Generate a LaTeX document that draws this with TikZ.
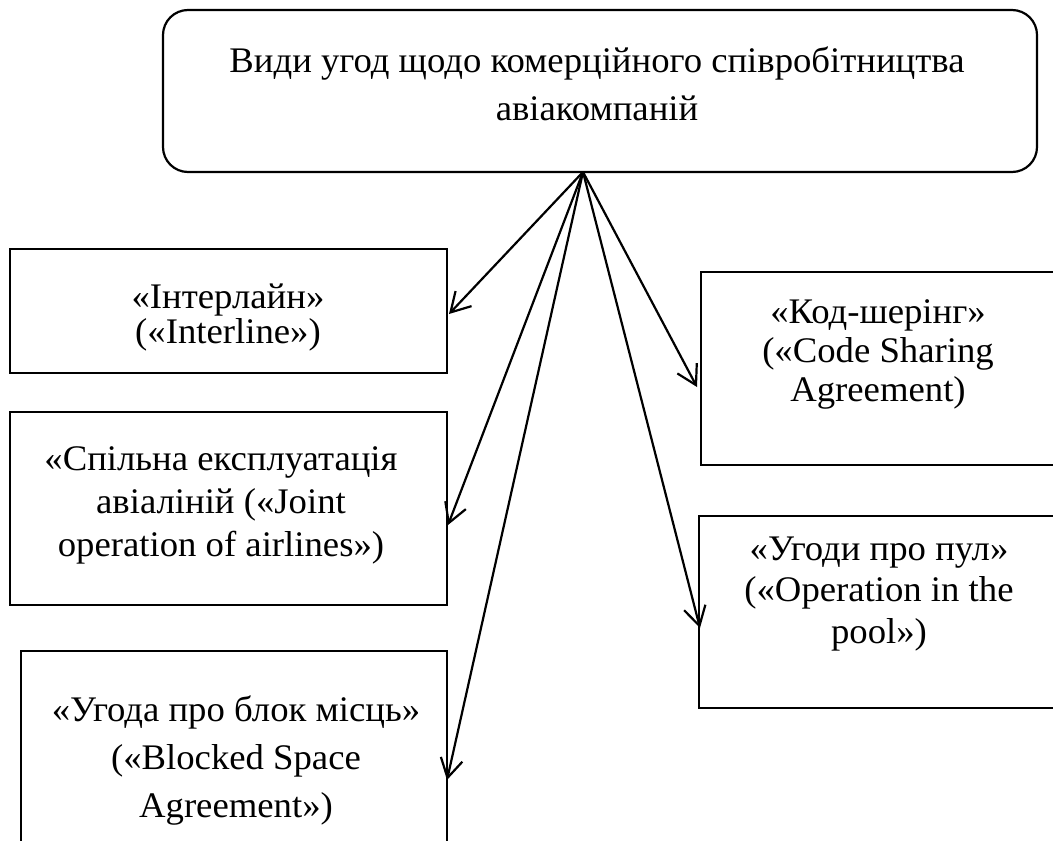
\documentclass[tikz,border=0pt]{standalone}
\usepackage{fontspec}
\setmainfont{Liberation Serif}[FakeStretch=1.02]
\usetikzlibrary{arrows.meta}
\newcommand\txtlines[2]{\fontsize{36}{#1}\selectfont\begin{tabular}[t]{@{}c@{}}#2\end{tabular}}
\begin{document}
\begin{tikzpicture}[x=1pt,y=-1pt,
  boxst/.style={draw, line width=2.2pt, rectangle, inner sep=0pt},
  txt/.style={anchor=base, inner sep=0pt},
  conn/.style={line width=2.2pt, -{Straight Barb[length=19pt,width=22pt]}}]
\useasboundingbox (0,0) rectangle (1053,841);
\clip (0,0) rectangle (1053,841);
% boxes
\node[boxst, rounded corners=25pt, minimum width=874pt, minimum height=162pt] (top) at (600,91) {};
\node[boxst, minimum width=437pt, minimum height=124pt] (b1) at (228.5,311) {};
\node[boxst, minimum width=437pt, minimum height=193pt] (b2) at (228.5,508.5) {};
\node[boxst, minimum width=426pt, minimum height=229pt] (b3) at (234,765.5) {};
\node[boxst, minimum width=369pt, minimum height=193pt] (b4) at (885.5,368.5) {};
\node[boxst, minimum width=371pt, minimum height=192pt] (b5) at (884.5,612) {};
% texts
\node[txt] (t0) at (597,72) {\txtlines{48}{Види угод щодо комерційного співробітництва\\авіакомпаній}};
\node[txt] (t1) at (228,308) {\txtlines{33.5}{«Інтерлайн»\\(«Interline»)}};
\node[txt] (t2) at (221,470) {\txtlines{43}{«Спільна експлуатація\\авіаліній («Joint\\operation of airlines»)}};
\node[txt] (t3) at (236,721) {\txtlines{48}{«Угода про блок місць»\\(«Blocked Space\\Agreement»)}};
\node[txt] (t4) at (878,323) {\txtlines{39}{«Код-шерінг»\\(«Code Sharing\\Agreement)}};
\node[txt] (t5) at (879,560) {\txtlines{41.5}{«Угоди про пул»\\(«Operation in the\\pool»)}};
% connectors
\coordinate (hub) at (583,172);
\coordinate (e1) at (449,314);
\coordinate (e2) at (448,525);
\coordinate (e3) at (447,780);
\coordinate (e4) at (697,387);
\coordinate (e5) at (700,628);
\draw[conn] (hub) -- (e1);
\draw[conn] (hub) -- (e2);
\draw[conn] (hub) -- (e3);
\draw[conn] (hub) -- (e4);
\draw[conn] (hub) -- (e5);
\end{tikzpicture}
\end{document}
